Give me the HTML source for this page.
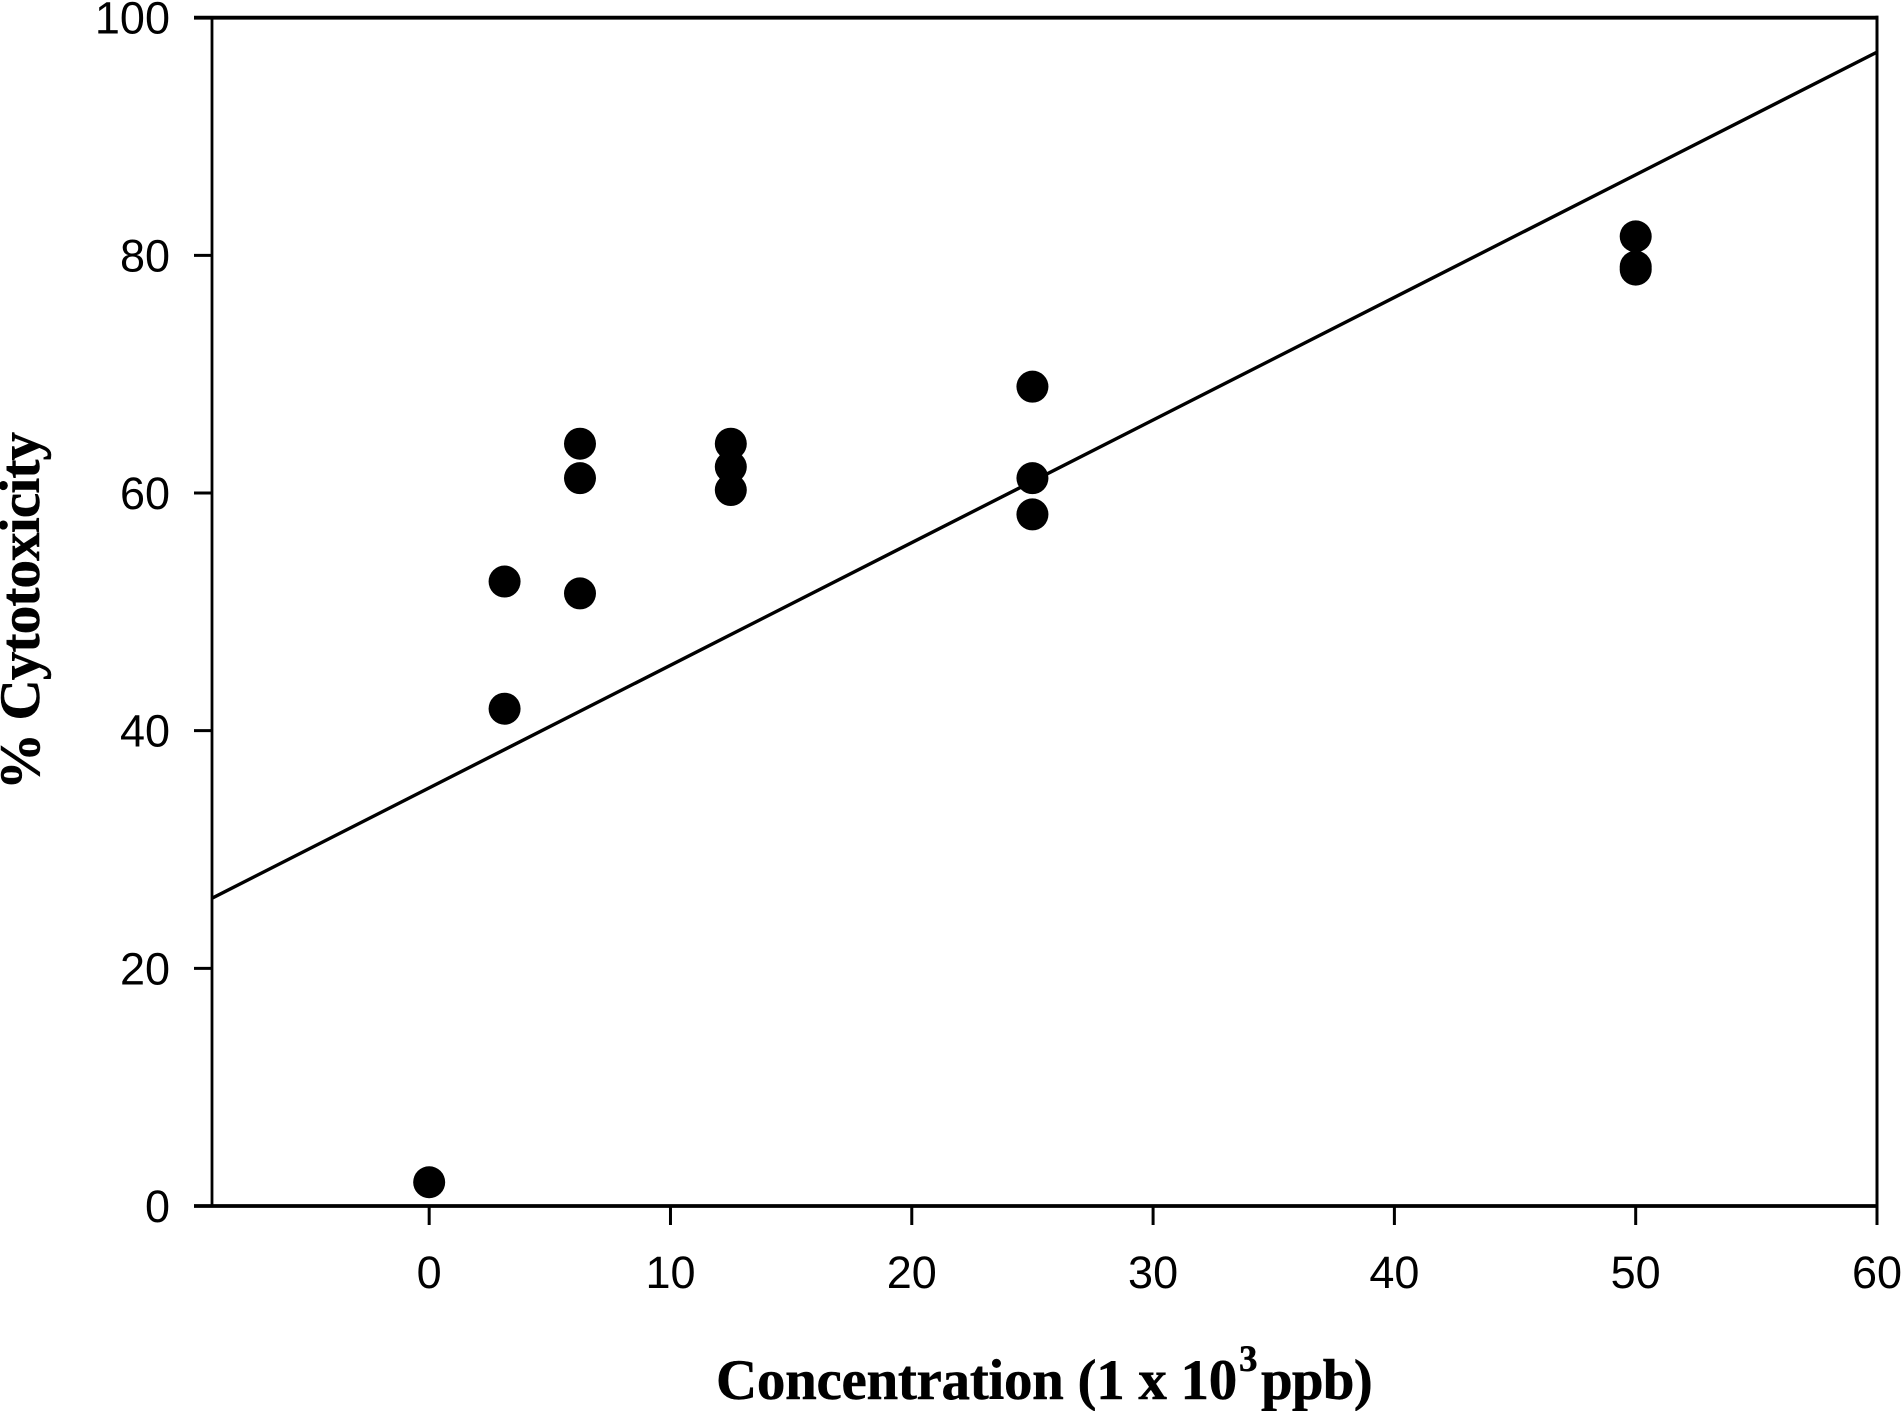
<!DOCTYPE html>
<html lang="en">
<head>
<meta charset="utf-8">
<title>% Cytotoxicity vs Concentration</title>
<style>
html,body{margin:0;padding:0;background:#fff;}
svg{display:block;}
.tick-label{font-family:"Liberation Sans",sans-serif;font-size:45px;fill:#000;}
.axis-title{font-family:"Liberation Serif",serif;font-weight:bold;font-size:57px;fill:#000;stroke:#000;stroke-width:0.5px;}
</style>
</head>
<body>
<svg id="chart" xmlns="http://www.w3.org/2000/svg" width="1901" height="1411" viewBox="0 0 1901 1411">
  <rect x="0" y="0" width="1901" height="1411" fill="#ffffff"/>
  <g id="grid-axes"></g>
  <g id="fit"></g>
  <g id="points"></g>
  <text class="axis-title" x="716" y="1399"><tspan letter-spacing="-0.3">Concentration (1 x 10</tspan><tspan x="1239" y="1371" font-size="37">3</tspan><tspan x="1261" y="1399" letter-spacing="-0.8">ppb)</tspan></text>
  <text class="axis-title" transform="translate(39,790) rotate(-90)" x="0" y="0" textLength="358" lengthAdjust="spacing">% Cytotoxicity</text>
</svg>
<script>
const xTickValues = [0, 10, 20, 30, 40, 50, 60];
const yTickValues = [0, 20, 40, 60, 80, 100];
const pointX = [0, 3.125, 3.125, 6.25, 6.25, 6.25, 12.5, 12.5, 12.5, 25, 25, 25, 50, 50, 50];
const pointY = [2.0, 41.85, 52.55, 51.55, 61.25, 64.15, 60.25, 62.2, 64.15, 58.2, 61.25, 68.95, 78.8, 79.05, 81.6];
const fitX = [-9, 60];
const fitY = [25.9, 97.1];
const xDomain = [-9, 60];
const yDomain = [0, 100];

const plotLeft = 212, plotRight = 1877, plotTop = 17.7, plotBottom = 1206;
const NS = 'http://www.w3.org/2000/svg';

function sx(v) {
  return plotLeft + (v - xDomain[0]) / (xDomain[1] - xDomain[0]) * (plotRight - plotLeft);
}
function sy(v) {
  return plotBottom - (v - yDomain[0]) / (yDomain[1] - yDomain[0]) * (plotBottom - plotTop);
}
function makeLine(parent, x1, y1, x2, y2, w) {
  const l = document.createElementNS(NS, 'line');
  l.setAttribute('x1', x1);
  l.setAttribute('y1', y1);
  l.setAttribute('x2', x2);
  l.setAttribute('y2', y2);
  l.setAttribute('stroke', '#000');
  l.setAttribute('stroke-width', w);
  parent.appendChild(l);
  return l;
}
function makeText(parent, x, y, anchor, str) {
  const t = document.createElementNS(NS, 'text');
  t.setAttribute('x', x);
  t.setAttribute('y', y);
  t.setAttribute('text-anchor', anchor);
  t.setAttribute('class', 'tick-label');
  t.textContent = str;
  parent.appendChild(t);
  return t;
}

const axes = document.getElementById('grid-axes');

const leftAxis = makeLine(axes, plotLeft, plotTop, plotLeft, plotBottom, 2.8);



const rightAxis = makeLine(axes, plotRight, plotTop - 2, plotRight, plotBottom + 19, 3);



const topAxis = makeLine(axes, plotLeft - 18, plotTop, plotRight + 1.5, plotTop, 3.8);



const bottomAxis = makeLine(axes, plotLeft - 18, plotBottom, plotRight, plotBottom, 3.8);



yTickValues.forEach(function (v) {
  if (v !== 0 && v !== 100) {
    const tick = makeLine(axes, plotLeft - 18, sy(v), plotLeft, sy(v), 3);
    
    
  }
  const label = makeText(axes, 170, sy(v) + 16, 'end', String(v));
  
  
});

xTickValues.forEach(function (v) {
  if (v !== 60) {
    const tick = makeLine(axes, sx(v), plotBottom, sx(v), plotBottom + 19, 3);
    
    
  }
  const label = makeText(axes, sx(v), 1288, 'middle', String(v));
  
  
});

const fitGroup = document.getElementById('fit');
const fitLine = makeLine(fitGroup, sx(fitX[0]), sy(fitY[0]), sx(fitX[1]), sy(fitY[1]), 3.4);



const pointGroup = document.getElementById('points');
pointX.forEach(function (x, i) {
  const c = document.createElementNS(NS, 'circle');
  c.setAttribute('cx', sx(x));
  c.setAttribute('cy', sy(pointY[i]));
  c.setAttribute('r', 16);
  c.setAttribute('fill', '#000');
  
  
  pointGroup.appendChild(c);
});
</script>
</body>
</html>
